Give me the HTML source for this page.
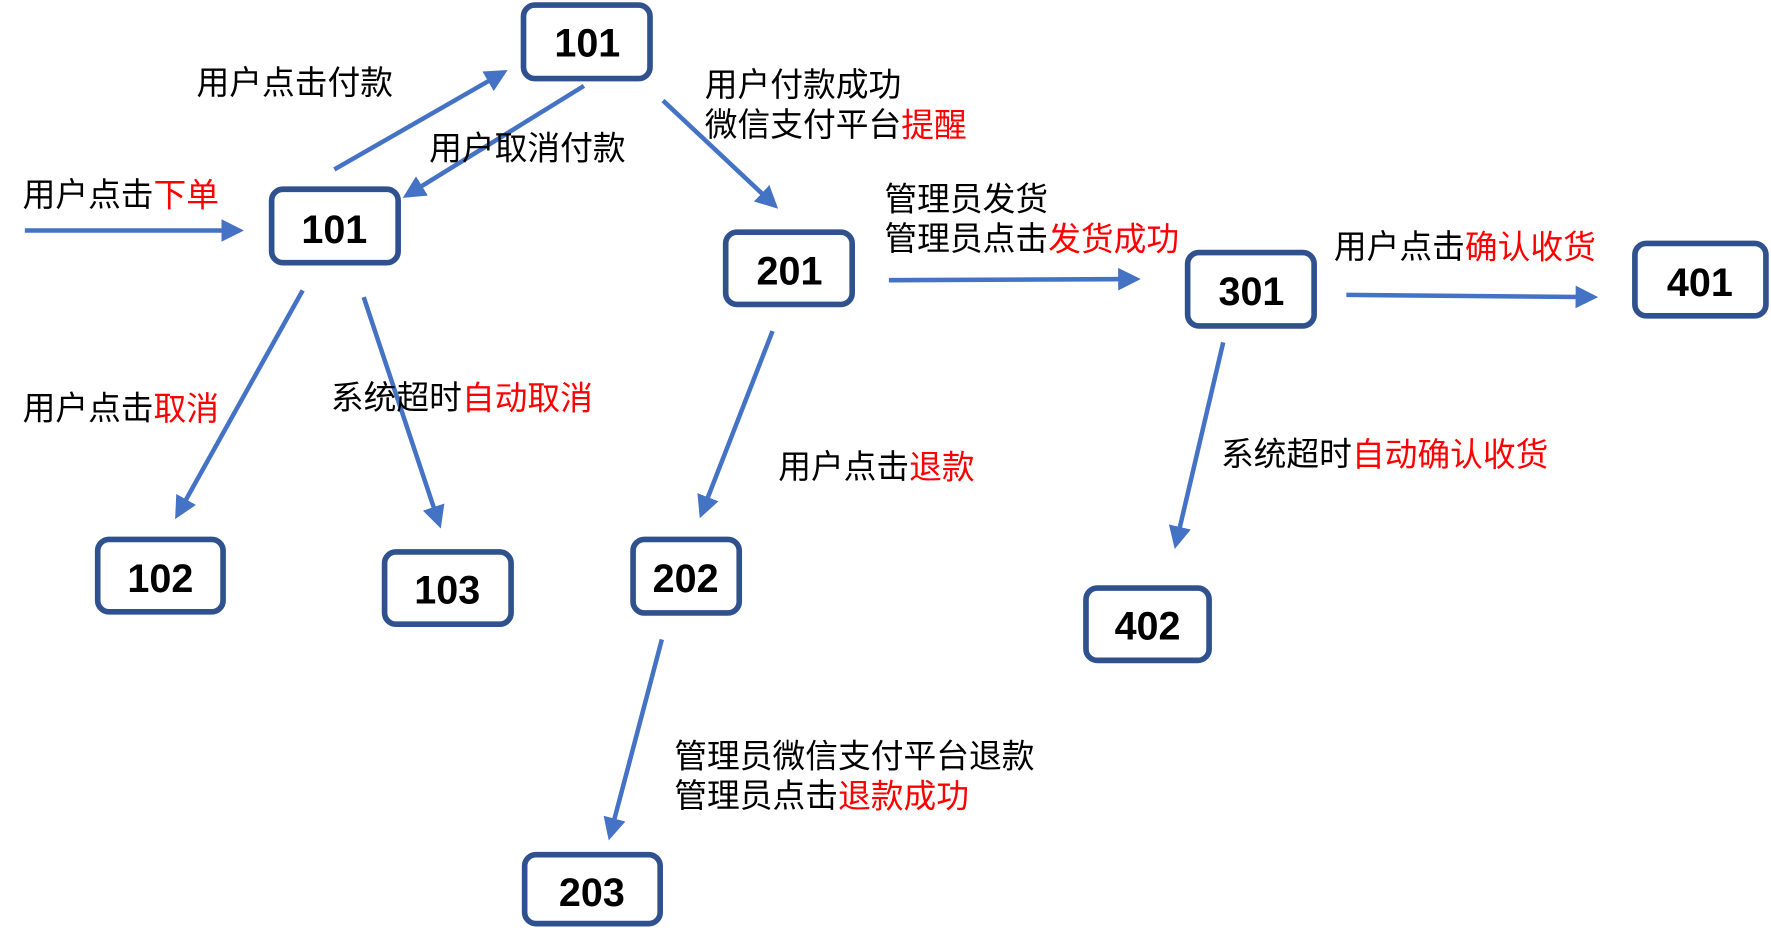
<!DOCTYPE html>
<html><head><meta charset="utf-8"><style>
html,body{margin:0;padding:0;background:#fff;}
svg{display:block;}
text{font-family:"Liberation Sans","Noto Sans CJK SC",sans-serif;}
.l{font-size:29px;fill:#000;}
.r{fill:#ff0000;}
.b{font-size:35px;font-weight:bold;fill:#000;text-anchor:middle;}
rect{fill:#fff;stroke:#2F528F;stroke-width:5;}
line{stroke:#4472C4;stroke-width:4;}
</style></head><body>
<svg width="1771" height="940" viewBox="0 0 1568 832" preserveAspectRatio="none" xmlns="http://www.w3.org/2000/svg">
<defs><marker id="a" markerWidth="5" markerHeight="5" refX="4" refY="2.5" orient="auto" markerUnits="strokeWidth"><path d="M0,0 L5,2.5 L0,5 z" fill="#4472C4"/></marker></defs>
<g marker-end="url(#a)">
<line x1="22" y1="204" x2="212" y2="204"/>
<line x1="296" y1="150" x2="446" y2="64"/>
<line x1="517" y1="76" x2="360" y2="173"/>
<line x1="587" y1="89" x2="686" y2="182"/>
<line x1="268" y1="257" x2="157" y2="456"/>
<line x1="322" y1="263" x2="389" y2="464"/>
<line x1="684" y1="293" x2="621" y2="455"/>
<line x1="787" y1="248" x2="1006" y2="247"/>
<line x1="1192" y1="261" x2="1411" y2="263"/>
<line x1="1083" y1="303" x2="1041" y2="482"/>
<line x1="586" y1="566" x2="540" y2="740"/>
</g>
<rect x="463.5" y="4.5" width="112" height="65" rx="10"/><text class="b" x="520" y="50">101</text>
<rect x="240.5" y="167.5" width="112" height="65" rx="10"/><text class="b" x="296" y="215">101</text>
<rect x="642.5" y="205.5" width="112" height="64" rx="10"/><text class="b" x="699" y="252">201</text>
<rect x="1051.5" y="223.5" width="112" height="65" rx="10"/><text class="b" x="1108" y="270">301</text>
<rect x="1447.5" y="215.5" width="116" height="64" rx="10"/><text class="b" x="1505" y="262">401</text>
<rect x="86.5" y="477.5" width="111" height="64" rx="10"/><text class="b" x="142" y="524">102</text>
<rect x="340.5" y="488.5" width="112" height="64" rx="10"/><text class="b" x="396" y="534">103</text>
<rect x="560.5" y="477.5" width="94" height="65" rx="10"/><text class="b" x="607" y="524">202</text>
<rect x="961.5" y="520.5" width="109" height="64" rx="10"/><text class="b" x="1016" y="566">402</text>
<rect x="464.5" y="756.5" width="120" height="61" rx="10"/><text class="b" x="524" y="802">203</text>
<g dominant-baseline="central">
<text class="l" x="174" y="73">用户点击付款</text>
<text class="l" x="380" y="131">用户取消付款</text>
<text class="l" x="20" y="172">用户点击<tspan class="r">下单</tspan></text>
<text class="l" x="624" y="75">用户付款成功</text>
<text class="l" x="624" y="110">微信支付平台<tspan class="r">提醒</tspan></text>
<text class="l" x="783" y="176">管理员发货</text>
<text class="l" x="783" y="211">管理员点击<tspan class="r">发货成功</tspan></text>
<text class="l" x="1181" y="218">用户点击<tspan class="r">确认收货</tspan></text>
<text class="l" x="20" y="361">用户点击<tspan class="r">取消</tspan></text>
<text class="l" x="293" y="352">系统超时<tspan class="r">自动取消</tspan></text>
<text class="l" x="689" y="413">用户点击<tspan class="r">退款</tspan></text>
<text class="l" x="1081" y="402">系统超时<tspan class="r">自动确认收货</tspan></text>
<text class="l" x="597" y="669">管理员微信支付平台退款</text>
<text class="l" x="597" y="704">管理员点击<tspan class="r">退款成功</tspan></text>
</g>
</svg>
</body></html>
